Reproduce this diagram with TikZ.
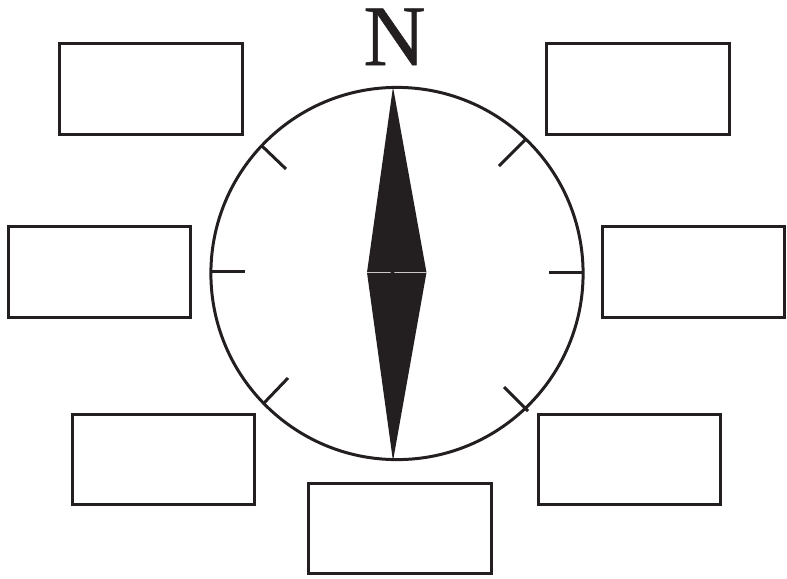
\documentclass[tikz,border=0pt]{standalone}
\usepackage{fontspec}
\setmainfont{Liberation Serif}
\newfontfamily\northfont[FakeBold=0.6]{Liberation Serif}
\usepackage{xcolor}
\definecolor{inkdark}{HTML}{231F20}
\definecolor{inklight}{HTML}{C8C8C8}

\begin{document}
\begin{tikzpicture}[
    x=0.01cm, y=-0.01cm,
    labelbox/.style={rectangle, draw=inkdark, line width=0.85pt, minimum width=1.82cm, minimum height=0.9cm, inner sep=0pt},
    dial/.style={circle, draw=inkdark, line width=0.85pt, minimum size=3.72cm, inner sep=0pt},
    tick/.style={draw=inkdark, line width=0.85pt},
    needle/.style={fill=inkdark, draw=none}
]
\useasboundingbox (0,0) rectangle (787,578);

% Compass dial
\node[dial] (compass) at (397,273.5) {};
\node[font=\northfont\fontsize{24.5}{24.5}\selectfont, text=inkdark, inner sep=0pt, anchor=base] (north) at (394.5,65) {N};

% Needle
\coordinate (tip) at (393,87);
\coordinate (west) at (367,272.5);
\coordinate (east) at (426.5,272.5);
\coordinate (tail) at (393,461);
\fill[needle] (tip) -- (east) -- (tail) -- (west) -- cycle;
\draw[inklight, line width=0.4pt] (west) -- (east);
\fill[needle] (392.5,273) circle (2);

% Ticks
\coordinate (nwout) at (262,146); \coordinate (nwin) at (286,169);
\coordinate (neout) at (525,140); \coordinate (nein) at (499,166);
\coordinate (wout) at (212,271.5); \coordinate (win) at (245,271.5);
\coordinate (eout) at (582,272.5); \coordinate (ein) at (549,272.5);
\coordinate (swout) at (264,403); \coordinate (swin) at (288,378);
\coordinate (seout) at (528,411); \coordinate (sein) at (504,387);

\draw[tick] (nwout) -- (nwin);
\draw[tick] (neout) -- (nein);
\draw[tick] (wout) -- (win);
\draw[tick] (eout) -- (ein);
\draw[tick] (swout) -- (swin);
\draw[tick] (seout) -- (sein);

% Empty label boxes
\node[labelbox] (boxnw) at (151,89) {};
\node[labelbox] (boxne) at (638,89) {};
\node[labelbox] (boxw) at (99.5,272) {};
\node[labelbox] (boxe) at (693.5,272) {};
\node[labelbox] (boxsw) at (163.5,459.5) {};
\node[labelbox] (boxse) at (629.5,459.5) {};
\node[labelbox] (boxs) at (400,528.5) {};

\end{tikzpicture}
\end{document}
